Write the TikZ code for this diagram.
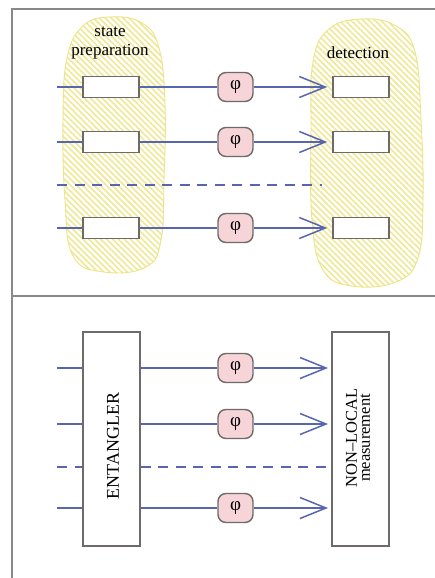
\documentclass[tikz,border=0pt]{standalone}
\usepackage{fontspec}
\setmainfont{Liberation Serif}
\usetikzlibrary{arrows.meta,patterns.meta}

\definecolor{wirecol}{HTML}{5866B0}
\definecolor{boxgray}{HTML}{6E6A6A}
\definecolor{framegray}{HTML}{8C8888}
\definecolor{phipink}{HTML}{F6D4D8}
\definecolor{blobedge}{HTML}{EDE488}
\definecolor{hatchcol}{HTML}{F0E894}

\tikzset{
  frameline/.style={draw=framegray, line width=2pt},
  wire/.style={draw=wirecol, line width=1.5pt},
  dashwire/.style={wire, dash pattern=on 10pt off 7.5pt},
  arrowwire/.style={wire, -{Straight Barb[length=26pt,width=21pt]}},
  blob/.style={draw=blobedge, line width=0.9pt,
    pattern={Lines[angle=-45,distance=4.2pt,line width=1.6pt]}, pattern color=hatchcol},
  smallbox/.style={draw=boxgray, fill=white, line width=1.4pt, inner sep=0pt,
    minimum width=56pt, minimum height=21pt},
  tallbox/.style={draw=boxgray, fill=white, line width=1.4pt, inner sep=0pt,
    minimum width=57pt, minimum height=214pt},
  phibox/.style={draw=boxgray, fill=phipink, line width=1.4pt, rounded corners=8pt,
    inner sep=0pt, minimum width=35pt, minimum height=29pt,
    font=\fontsize{19}{19}\selectfont},
  label/.style={font=\fontsize{17}{19}\selectfont, align=center, text=black},
}

\begin{document}
\begin{tikzpicture}[x=1pt, y=-1pt]
\useasboundingbox (0,0) rectangle (435,578);
\fill[white] (0,0) rectangle (435,578);

% panel frames
\draw[frameline] (12,578) -- (12,9) -- (435,9);
\draw[frameline] (12,296) -- (435,296);

% ---------- upper panel: local preparation and detection ----------
\path[blob] plot[smooth cycle, tension=0.7] coordinates {
  (110,17) (142,23) (159,48) (165,105) (164,180) (161,240) (146,267)
  (104,272) (73,256) (65,200) (63,120) (67,58) (83,26)};
\path[blob] plot[smooth cycle, tension=0.7] coordinates {
  (362,19) (396,26) (415,52) (421,120) (423,200) (418,258) (396,282)
  (352,286) (323,270) (312,220) (311,130) (313,62) (329,29)};

\node[label] (prep) at (110,43) {state\\preparation};
\node[label] (det) at (358,53) {detection};

\foreach \r/\y in {1/87, 2/142, 3/228} {
  \coordinate (tin\r) at (57,\y);
  \node[smallbox] (tl\r) at (111,\y) {};
  \node[phibox] (tp\r) at (235.5,\y) {φ};
  \node[smallbox] (tr\r) at (361,\y) {};
  \draw[wire] (tin\r) -- (tl\r.west);
  \draw[wire] (tl\r.east) -- (tp\r.west);
  \draw[arrowwire, shorten >=5pt] (tp\r.east) -- (tr\r.west);
}
\coordinate (tdA) at (57,185);
\coordinate (tdB) at (322,185);
\draw[dashwire] (tdA) -- (tdB);

% ---------- lower panel: entangled probes, joint measurement ----------
\node[tallbox] (ent) at (111.5,439) {};
\node[tallbox] (nlm) at (360.5,439) {};
\node[rotate=90, font=\fontsize{18}{18}\selectfont, text=black] (entlabel) at (113,446) {ENTANGLER};
\node[rotate=90, align=center, font=\fontsize{16.5}{13}\selectfont, text=black] (nlmlabel) at (358,438)
  {NON–LOCAL\\measurement};

\foreach \r/\y in {1/368, 2/424, 3/508} {
  \coordinate (bin\r) at (57,\y);
  \coordinate (bout\r) at (328,\y);
  \node[phibox] (bp\r) at (235.5,\y) {φ};
  \draw[wire] (bin\r) -- (ent.west |- bin\r);
  \draw[wire] (ent.east |- bin\r) -- (bp\r.west);
  \draw[arrowwire] (bp\r.east) -- (bout\r);
}
\coordinate (bdA) at (57,467);
\draw[dashwire] (bdA) -- (ent.west |- bdA);
\draw[dashwire] (ent.east |- bdA) -- (nlm.west |- bdA);
\end{tikzpicture}
\end{document}
